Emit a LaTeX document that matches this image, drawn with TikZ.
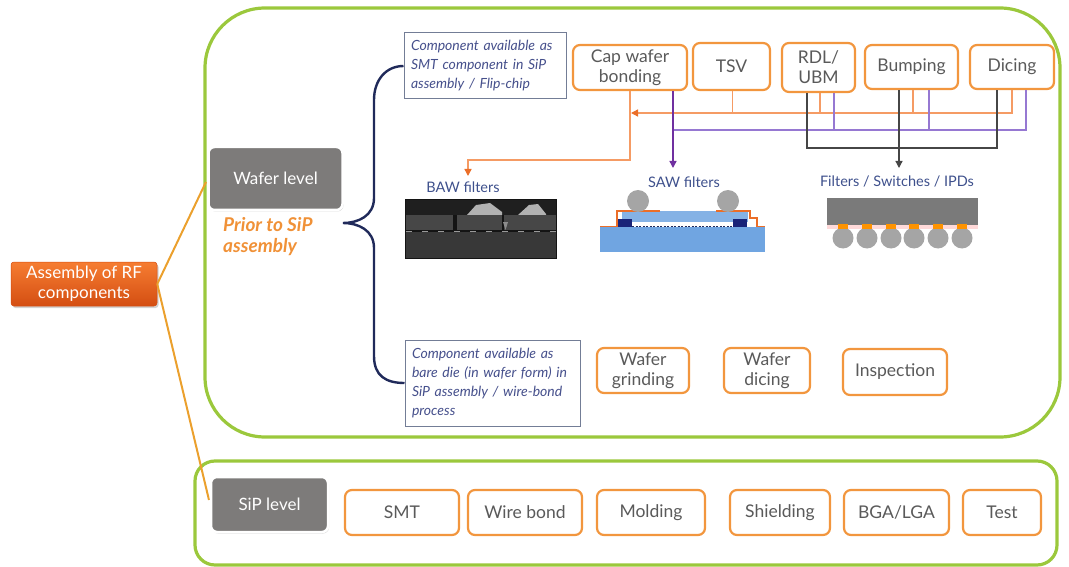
\documentclass[tikz,border=0pt]{standalone}
\usepackage{fontspec}
\setmainfont{Lato}
\usetikzlibrary{arrows.meta,shadows}

\definecolor{leaf}{RGB}{155,200,60}
\definecolor{procor}{RGB}{242,150,62}
\definecolor{boxtxt}{RGB}{90,90,90}
\definecolor{navy}{RGB}{32,42,90}
\definecolor{notetxt}{RGB}{70,80,140}
\definecolor{noteedge}{RGB}{115,125,150}
\definecolor{lbltxt}{RGB}{62,80,140}
\definecolor{busor}{RGB}{245,155,100}
\definecolor{arror}{RGB}{235,110,40}
\definecolor{buspu}{RGB}{150,120,210}
\definecolor{pudark}{RGB}{112,48,160}
\definecolor{busbk}{RGB}{70,70,70}
\definecolor{tiergray}{RGB}{125,123,122}
\definecolor{rootlt}{RGB}{246,125,50}
\definecolor{rootdk}{RGB}{212,78,18}
\definecolor{feedor}{RGB}{235,160,45}
\definecolor{priortxt}{RGB}{240,145,55}
\definecolor{sawblue}{RGB}{112,165,225}
\definecolor{padnavy}{RGB}{25,35,120}
\definecolor{ballgray}{RGB}{165,165,165}

\begin{document}
\begin{tikzpicture}[x=1pt,y=-1pt,
  zone/.style={draw=leaf, line width=3.2pt},
  proc/.style={draw=procor, line width=2.2pt, rounded corners=7pt, fill=white,
    text=boxtxt, align=center, inner sep=0pt, font=\fontsize{17.5}{20}\selectfont},
  note/.style={draw=noteedge, line width=1pt, fill=white, text=notetxt, align=left,
    inner xsep=7pt, inner ysep=0pt, font=\itshape\fontsize{14}{19}\selectfont},
  tier/.style={fill=tiergray, draw=white, line width=2.5pt, rounded corners=6pt,
    text=white, font=\fontsize{17}{20}\selectfont,
    drop shadow={opacity=0.3, shadow xshift=1pt, shadow yshift=-1.5pt}},
  root/.style={top color=rootlt, bottom color=rootdk, draw=rootdk, line width=0.5pt,
    rounded corners=3pt, text=white, align=center, inner sep=0pt,
    font=\fontsize{17}{20}\selectfont,
    drop shadow={opacity=0.35, shadow xshift=1.5pt, shadow yshift=-2pt}},
  lbl/.style={text=lbltxt, font=\fontsize{14.5}{16}\selectfont, inner sep=0pt},
  prior/.style={text=priortxt, font=\bfseries\itshape\fontsize{19}{21}\selectfont,
    align=left, inner sep=0pt},
  feed/.style={draw=feedor, line width=2pt},
  brace/.style={draw=navy, line width=2.4pt},
  obus/.style={draw=busor, line width=1.4pt},
  pbus/.style={draw=buspu, line width=1.3pt},
  kbus/.style={draw=busbk, line width=1.2pt},
  otip/.style={-{Triangle[length=7pt,width=7pt,color=arror]}},
  ptip/.style={-{Triangle[length=7pt,width=7pt]}},
  ktip/.style={-{Triangle[length=7pt,width=7pt]}}
]
\useasboundingbox (0,0) rectangle (1069,567);

% group frames
\draw[zone, rounded corners=60pt] (205,8) rectangle (1060,437);
\draw[zone, rounded corners=20pt] (195,461) rectangle (1057,565);

% root and the two levels
\node[root, minimum width=146pt, minimum height=44pt] (asm) at (84,284) {Assembly of RF\\components};
\draw[feed] (asm.east) -- (206,182);
\draw[feed] (asm.east) -- (209,500);
\node[tier, minimum width=134pt, minimum height=63pt] (wafer) at (275.5,178.5) {Wafer level};
\node[tier, minimum width=117pt, minimum height=55pt] (sip) at (269.5,504.5) {SiP level};
\node[prior, anchor=base west] (prior) at (223,252) {Prior to SiP\\assembly};

% the two options at wafer level
\node[note, text width=148pt, minimum height=66pt] (topnote) at (485,66)
  {Component available as\\SMT component in SiP\\assembly / Flip-chip};
\node[note, text width=161pt, minimum height=86pt] (botnote) at (492.5,383)
  {Component available as\\bare die (in wafer form) in\\SiP assembly / wire-bond\\process};
\coordinate (tip) at (343,223);
\draw[brace] (topnote.west) .. controls (386,66) and (374,80) .. (374,100) -- (374,198)
  .. controls (374,216) and (358,223) .. (tip)
  .. controls (358,223) and (374,230) .. (374,248) -- (374,356)
  .. controls (374,376) and (386,383) .. (botnote.west);

% flip-chip process steps
\node[proc, minimum width=114pt, minimum height=45pt] (cap) at (630,67.5) {Cap wafer\\bonding};
\node[proc, minimum width=77pt, minimum height=47pt] (tsv) at (731.5,66.5) {TSV};
\node[proc, minimum width=73pt, minimum height=49pt] (rdl) at (818.5,67.5) {RDL/\\UBM};
\node[proc, minimum width=93pt, minimum height=44pt] (bump) at (911.5,67) {Bumping};
\node[proc, minimum width=84pt, minimum height=44pt] (dice) at (1012,67) {Dicing};

% product labels
\node[lbl] (bawlbl) at (463,187) {BAW filters};
\node[lbl] (sawlbl) at (684,182) {SAW filters};
\node[lbl] (ipdlbl) at (897,181) {Filters / Switches / IPDs};

% bus levels and arrow ends
\coordinate (oy) at (0,113);
\coordinate (py) at (0,130);
\coordinate (ky) at (0,148);
\coordinate (bawbend) at (468,160);
\coordinate (bawtip) at (468,176);
\coordinate (sawtip) at (673,168);
\coordinate (ipdtip) at (899,168);

% orange route: to BAW filters
\draw[obus, otip] (dice.south) |- ([xshift=1pt]cap.south |- oy);
\foreach \n/\dx in {tsv/1, rdl/1.5, bump/1.5}
  \draw[obus] ([xshift=\dx pt]\n.south) -- ([xshift=\dx pt]\n.south |- oy);
\draw[obus, otip] (cap.south) |- (bawbend) -- (bawtip);

% purple route: to SAW filters
\draw[pbus] ([xshift=14pt]dice.south) |- ([xshift=43pt]cap.south |- py);
\foreach \n/\dx in {rdl/15.5, bump/17.5}
  \draw[pbus] ([xshift=\dx pt]\n.south) -- ([xshift=\dx pt]\n.south |- py);
\draw[draw=pudark, line width=1.4pt, ptip, pudark] ([xshift=43pt]cap.south) -- (sawtip);

% dark route: to filters / switches / IPDs
\draw[kbus] ([xshift=-11.5pt]rdl.south) |- ([xshift=-15pt]dice.south |- ky) -- ([xshift=-15pt]dice.south);
\draw[kbus, ktip, busbk] ([xshift=-12.5pt]bump.south) -- (ipdtip);

% BAW filter cross-section
\fill[black!92] (405,199) rectangle (557,259);
\fill[black!88] (406,200) rectangle (556,215);
\fill[black!72] (406,215) rectangle (556,230);
\fill[black!92] (453,215) rectangle (457,230);
\fill[black!92] (502,215) rectangle (504,230);
\fill[black!45] (503,222) -- (508,222) -- (505.5,230) -- cycle;
\draw[black!40, line width=0.8pt, dash pattern=on 6pt off 10pt] (406,231) -- (556,231);
\fill[black!78] (406,232) rectangle (556,258);
\fill[black!30] (467,215) -- (476,205) -- (490,203) -- (502,212) -- (502,215) -- cycle;
\fill[black!30] (518,215) -- (529,205) -- (538,204) -- (546,214) -- (546,215) -- cycle;

% SAW filter cross-section
\fill[sawblue] (600,227) rectangle (765,252);
\fill[sawblue!85!white] (622,211) rectangle (748,222);
\fill[white] (632,222) rectangle (733,227);
\draw[navy, line width=0.6pt, dash pattern=on 2pt off 1.5pt] (632,226.5) -- (733,226.5);
\fill[padnavy] (618,219) rectangle (632,227);
\fill[padnavy] (733,219) rectangle (747,227);
\draw[arror, line width=1.5pt] (600,226.5) -- (617,226.5) -- (617,211) -- (660,211);
\draw[arror, line width=1.5pt] (716,211) -- (750,211) -- (750,218) -- (757,218) -- (757,226.5) -- (765,226.5);
\fill[ballgray] (638,201) circle (11);
\fill[ballgray] (728,201) circle (11);

% flip-chip die with bumps
\fill[black!52] (827,198) rectangle (978,225);
\fill[pink!60] (827,225) rectangle (978,229);
\foreach \bx in {843,867,891,914,938,962} {
  \fill[ballgray] (\bx,238) circle (10.5);
  \fill[orange!85!yellow] (\bx-5,224) rectangle (\bx+5,229);
}

% bare-die process steps
\node[proc, minimum width=92pt, minimum height=45pt] (grind) at (643,370.5) {Wafer\\grinding};
\node[proc, minimum width=86pt, minimum height=45pt] (wdice) at (767,370.5) {Wafer\\dicing};
\node[proc, minimum width=104pt, minimum height=46pt] (insp) at (895,372) {Inspection};

% SiP level process steps
\node[proc, minimum width=114pt, minimum height=45pt] (smt) at (402,512.5) {SMT};
\node[proc, minimum width=114pt, minimum height=45pt] (wb) at (525,512.5) {Wire bond};
\node[proc, minimum width=108pt, minimum height=45pt] (mold) at (651,512.5) {Molding};
\node[proc, minimum width=100pt, minimum height=45pt] (shield) at (780,512.5) {Shielding};
\node[proc, minimum width=105pt, minimum height=45pt] (bga) at (896.5,512.5) {BGA/LGA};
\node[proc, minimum width=78pt, minimum height=45pt] (test) at (1002,512.5) {Test};
\end{tikzpicture}
\end{document}
